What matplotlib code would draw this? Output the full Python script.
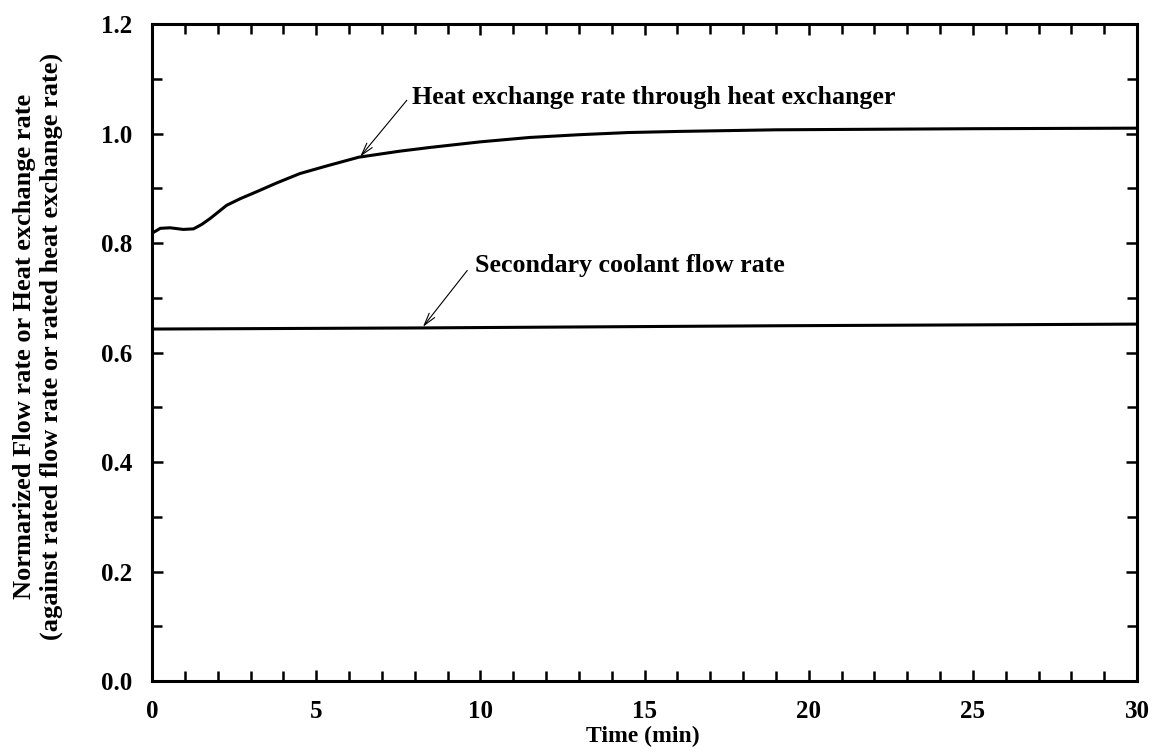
import numpy as np
import matplotlib
matplotlib.use('Agg')
import matplotlib.pyplot as plt
from matplotlib.ticker import MultipleLocator, FormatStrFormatter

plt.rcParams['font.family'] = ['Liberation Serif', 'DejaVu Serif']
plt.rcParams['font.weight'] = 'bold'

# Data
time_heat = [0, 0.25, 0.55, 0.95, 1.26, 1.51, 1.77, 2.02, 2.27, 2.68, 3.19, 3.8,
             4.5, 5.32, 6.3, 7.55, 8.5, 10, 11.5, 13, 14.5, 16, 19, 22, 25, 30]
heat_rate = [0.818, 0.827, 0.828, 0.825, 0.826, 0.834, 0.845, 0.857, 0.869, 0.881,
             0.894, 0.910, 0.927, 0.941, 0.957, 0.968, 0.975, 0.985, 0.993, 0.998,
             1.002, 1.004, 1.007, 1.008, 1.009, 1.010]
time_flow = [0, 8, 19, 30]
flow_rate = [0.643, 0.645, 0.649, 0.652]

fig = plt.figure(figsize=(11.52, 7.55), dpi=100)
ax = fig.add_axes([0.132, 0.098, 0.855, 0.870])

ax.plot(time_heat, heat_rate, color='black', lw=2.2)
ax.plot(time_flow, flow_rate, color='black', lw=2.2)

ax.set_xlim(0, 30)
ax.set_ylim(0, 1.2)
ax.xaxis.set_major_locator(MultipleLocator(5))
ax.xaxis.set_minor_locator(MultipleLocator(1))
ax.yaxis.set_major_locator(MultipleLocator(0.2))
ax.yaxis.set_minor_locator(MultipleLocator(0.1))
ax.yaxis.set_major_formatter(FormatStrFormatter('%.1f'))
ax.tick_params(which='both', direction='in', top=True, right=True, width=1.8)
ax.tick_params(which='major', length=8, labelsize=18)
ax.tick_params(which='minor', length=7)
ax.tick_params(axis='x', which='major', pad=14)
ax.tick_params(axis='y', which='major', pad=14)
for sp in ax.spines.values():
    sp.set_linewidth(2.2)

# axis titles placed as figure text to sit tight like the original
fig.text(643 / 1152, 1 - 736 / 755, 'Time (min)', fontsize=17, fontweight='bold',
         ha='center', va='center')
fig.text(38 / 1152, 1 - 346 / 755,
         'Normarized Flow rate or Heat exchange rate\n'
         '(against rated flow rate or rated heat exchange rate)',
         fontsize=19, fontweight='bold', rotation=90, ha='center', va='center',
         multialignment='center', linespacing=1.15)

arrow = dict(arrowstyle='->,head_length=0.9,head_width=0.25', color='black',
             lw=0.8, shrinkA=0, shrinkB=0)
ax.annotate('', xy=(6.34, 0.958), xytext=(7.76, 1.061), arrowprops=arrow)
ax.text(7.92, 1.055, 'Heat exchange rate through heat exchanger', fontsize=18.7,
        fontweight='bold', va='baseline')
ax.annotate('', xy=(8.25, 0.647), xytext=(9.6, 0.750), arrowprops=arrow)
ax.text(9.84, 0.747, 'Secondary coolant flow rate', fontsize=18.7,
        fontweight='bold', va='baseline')

fig.savefig('out.png', dpi=100)
